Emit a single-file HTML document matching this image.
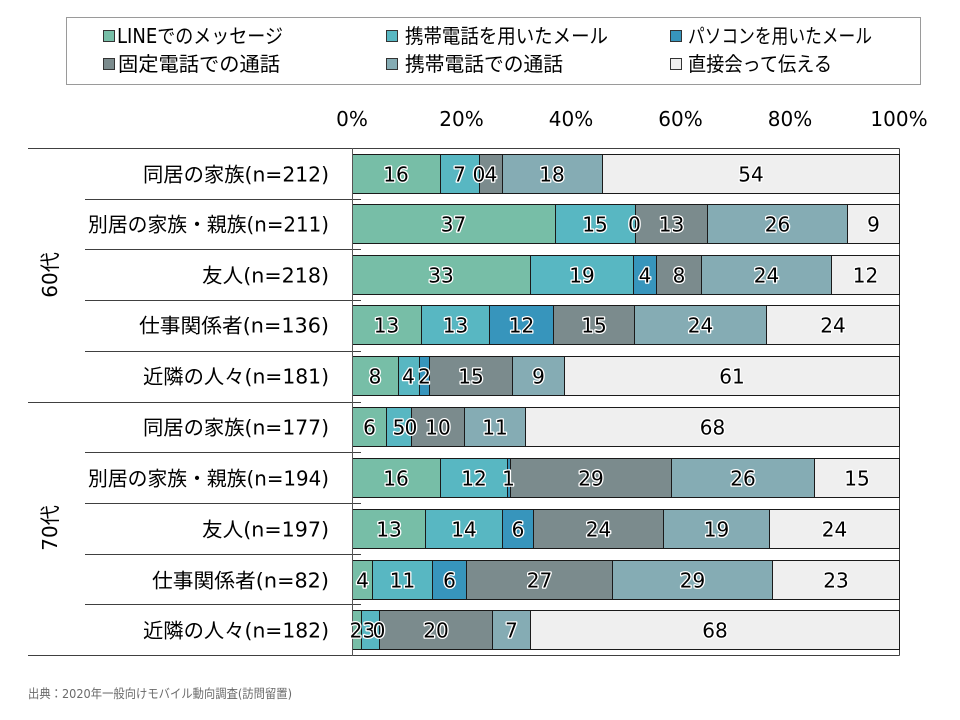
<!DOCTYPE html>
<html><head><meta charset="utf-8"><style>
html,body{margin:0;padding:0;background:#fff;}
svg{display:block;}
text{font-family:"DejaVu Sans","Noto Sans CJK JP",sans-serif;}
.v{font-size:20px;fill:#000;stroke:#fff;stroke-width:2.6px;paint-order:stroke;stroke-linejoin:round;text-anchor:middle;}
.lab{font-size:20px;fill:#000;text-anchor:end;}
.ax{font-size:20px;fill:#000;text-anchor:middle;}
.lg{font-size:20px;fill:#000;}
</style></head><body>
<svg width="960" height="720" viewBox="0 0 960 720" xmlns="http://www.w3.org/2000/svg">
<rect x="0" y="0" width="960" height="720" fill="#fff"/>
<!-- legend -->
<rect x="66.5" y="17.5" width="854" height="67" fill="#fff" stroke="#9a9a9a" stroke-width="1"/>
<rect x="103.5" y="30.5" width="11" height="11" fill="#77BEA7" stroke="#333"/>
<text class="lg" x="117" y="43" textLength="166" lengthAdjust="spacingAndGlyphs">LINEでのメッセージ</text>
<rect x="386.5" y="30.5" width="11" height="11" fill="#58B7C2" stroke="#333"/>
<text class="lg" x="405" y="43" textLength="203" lengthAdjust="spacingAndGlyphs">携帯電話を用いたメール</text>
<rect x="670.5" y="30.5" width="11" height="11" fill="#3795BC" stroke="#333"/>
<text class="lg" x="688" y="43" textLength="184" lengthAdjust="spacingAndGlyphs">パソコンを用いたメール</text>
<rect x="103.5" y="58.5" width="11" height="11" fill="#7B8B8D" stroke="#333"/>
<text class="lg" x="118" y="71" textLength="162" lengthAdjust="spacingAndGlyphs">固定電話での通話</text>
<rect x="386.5" y="58.5" width="11" height="11" fill="#85ACB4" stroke="#333"/>
<text class="lg" x="405" y="71" textLength="158" lengthAdjust="spacingAndGlyphs">携帯電話での通話</text>
<rect x="670.5" y="58.5" width="11" height="11" fill="#efefef" stroke="#333"/>
<text class="lg" x="688" y="71" textLength="144" lengthAdjust="spacingAndGlyphs">直接会って伝える</text>

<!-- axis labels -->
<text class="ax" x="352" y="126">0%</text>
<text class="ax" x="461.5" y="126">20%</text>
<text class="ax" x="571" y="126">40%</text>
<text class="ax" x="680.5" y="126">60%</text>
<text class="ax" x="790" y="126">80%</text>
<text class="ax" x="899" y="126">100%</text>

<!-- frame lines -->
<g stroke="#404040" stroke-width="1" fill="none">
<line x1="28" y1="148.5" x2="899.5" y2="148.5"/>
<line x1="28" y1="655.5" x2="899.5" y2="655.5"/>
<line x1="899.5" y1="148.5" x2="899.5" y2="655.5"/>
<line x1="28" y1="402.5" x2="361" y2="402.5"/>
<line x1="85" y1="199.5" x2="361" y2="199.5"/>
<line x1="85" y1="249.5" x2="361" y2="249.5"/>
<line x1="85" y1="300.5" x2="361" y2="300.5"/>
<line x1="85" y1="351.5" x2="361" y2="351.5"/>
<line x1="85" y1="452.5" x2="361" y2="452.5"/>
<line x1="85" y1="503.5" x2="361" y2="503.5"/>
<line x1="85" y1="554.5" x2="361" y2="554.5"/>
<line x1="85" y1="604.5" x2="361" y2="604.5"/>
</g>

<g id="bars" stroke="#1a1a1a" stroke-width="1">
<!-- row0 y154 -->
<rect x="352.5" y="154.5" width="88" height="39" fill="#77BEA7"/>
<rect x="440.5" y="154.5" width="39" height="39" fill="#58B7C2"/>
<rect x="479.5" y="154.5" width="23" height="39" fill="#7B8B8D"/>
<rect x="502.5" y="154.5" width="100" height="39" fill="#85ACB4"/>
<rect x="602.5" y="154.5" width="297" height="39" fill="#efefef"/>
<!-- row1 y204 -->
<rect x="352.5" y="204.5" width="203" height="39" fill="#77BEA7"/>
<rect x="555.5" y="204.5" width="80" height="39" fill="#58B7C2"/>
<rect x="635.5" y="204.5" width="72" height="39" fill="#7B8B8D"/>
<rect x="707.5" y="204.5" width="140" height="39" fill="#85ACB4"/>
<rect x="847.5" y="204.5" width="52" height="39" fill="#efefef"/>
<!-- row2 y255 -->
<rect x="352.5" y="255.5" width="178" height="39" fill="#77BEA7"/>
<rect x="530.5" y="255.5" width="103" height="39" fill="#58B7C2"/>
<rect x="633.5" y="255.5" width="23" height="39" fill="#3795BC"/>
<rect x="656.5" y="255.5" width="45" height="39" fill="#7B8B8D"/>
<rect x="701.5" y="255.5" width="130" height="39" fill="#85ACB4"/>
<rect x="831.5" y="255.5" width="68" height="39" fill="#efefef"/>
<!-- row3 y306 -->
<rect x="352.5" y="305.5" width="69" height="39" fill="#77BEA7"/>
<rect x="421.5" y="305.5" width="68" height="39" fill="#58B7C2"/>
<rect x="489.5" y="305.5" width="64" height="39" fill="#3795BC"/>
<rect x="553.5" y="305.5" width="81" height="39" fill="#7B8B8D"/>
<rect x="634.5" y="305.5" width="132" height="39" fill="#85ACB4"/>
<rect x="766.5" y="305.5" width="133" height="39" fill="#efefef"/>
<!-- row4 y356 -->
<rect x="352.5" y="356.5" width="46" height="39" fill="#77BEA7"/>
<rect x="398.5" y="356.5" width="21" height="39" fill="#58B7C2"/>
<rect x="419.5" y="356.5" width="10" height="39" fill="#3795BC"/>
<rect x="429.5" y="356.5" width="83" height="39" fill="#7B8B8D"/>
<rect x="512.5" y="356.5" width="52" height="39" fill="#85ACB4"/>
<rect x="564.5" y="356.5" width="335" height="39" fill="#efefef"/>
<!-- row5 y407 -->
<rect x="352.5" y="407.5" width="34" height="39" fill="#77BEA7"/>
<rect x="386.5" y="407.5" width="25" height="39" fill="#58B7C2"/>
<rect x="411.5" y="407.5" width="53" height="39" fill="#7B8B8D"/>
<rect x="464.5" y="407.5" width="61" height="39" fill="#85ACB4"/>
<rect x="525.5" y="407.5" width="374" height="39" fill="#efefef"/>
<!-- row6 y458 -->
<rect x="352.5" y="458.5" width="88" height="39" fill="#77BEA7"/>
<rect x="440.5" y="458.5" width="67" height="39" fill="#58B7C2"/>
<rect x="507.5" y="458.5" width="3" height="39" fill="#3795BC"/>
<rect x="510.5" y="458.5" width="161" height="39" fill="#7B8B8D"/>
<rect x="671.5" y="458.5" width="143" height="39" fill="#85ACB4"/>
<rect x="814.5" y="458.5" width="85" height="39" fill="#efefef"/>
<!-- row7 y509 -->
<rect x="352.5" y="509.5" width="73" height="39" fill="#77BEA7"/>
<rect x="425.5" y="509.5" width="77" height="39" fill="#58B7C2"/>
<rect x="502.5" y="509.5" width="31" height="39" fill="#3795BC"/>
<rect x="533.5" y="509.5" width="130" height="39" fill="#7B8B8D"/>
<rect x="663.5" y="509.5" width="106" height="39" fill="#85ACB4"/>
<rect x="769.5" y="509.5" width="130" height="39" fill="#efefef"/>
<!-- row8 y560 -->
<rect x="352.5" y="560.5" width="20" height="39" fill="#77BEA7"/>
<rect x="372.5" y="560.5" width="60" height="39" fill="#58B7C2"/>
<rect x="432.5" y="560.5" width="34" height="39" fill="#3795BC"/>
<rect x="466.5" y="560.5" width="146" height="39" fill="#7B8B8D"/>
<rect x="612.5" y="560.5" width="160" height="39" fill="#85ACB4"/>
<rect x="772.5" y="560.5" width="127" height="39" fill="#efefef"/>
<!-- row9 y610 -->
<rect x="352.5" y="610.5" width="9" height="39" fill="#77BEA7"/>
<rect x="361.5" y="610.5" width="18" height="39" fill="#58B7C2"/>
<rect x="379.5" y="610.5" width="113" height="39" fill="#7B8B8D"/>
<rect x="492.5" y="610.5" width="38" height="39" fill="#85ACB4"/>
<rect x="530.5" y="610.5" width="369" height="39" fill="#efefef"/>
</g>

<!-- left axis -->
<line x1="352.5" y1="148" x2="352.5" y2="656" stroke="#555" stroke-width="1"/>

<!-- value labels -->
<g>
<text class="v" x="396" y="181.5">16</text>
<text class="v" x="459.5" y="181.5">7</text>
<text class="v" x="479" y="181.5">0</text>
<text class="v" x="491" y="181.5">4</text>
<text class="v" x="552" y="181.5">18</text>
<text class="v" x="751" y="181.5">54</text>

<text class="v" x="453.5" y="231.5">37</text>
<text class="v" x="595" y="231.5">15</text>
<text class="v" x="634.5" y="231.5">0</text>
<text class="v" x="671.5" y="231.5">13</text>
<text class="v" x="777.5" y="231.5">26</text>
<text class="v" x="873.5" y="231.5">9</text>

<text class="v" x="441" y="282.5">33</text>
<text class="v" x="582" y="282.5">19</text>
<text class="v" x="645" y="282.5">4</text>
<text class="v" x="679" y="282.5">8</text>
<text class="v" x="766.5" y="282.5">24</text>
<text class="v" x="865.5" y="282.5">12</text>

<text class="v" x="386.5" y="332.5">13</text>
<text class="v" x="455.5" y="332.5">13</text>
<text class="v" x="521.5" y="332.5">12</text>
<text class="v" x="594" y="332.5">15</text>
<text class="v" x="700.5" y="332.5">24</text>
<text class="v" x="833" y="332.5">24</text>

<text class="v" x="375" y="383.5">8</text>
<text class="v" x="408.5" y="383.5">4</text>
<text class="v" x="424.5" y="383.5">2</text>
<text class="v" x="471" y="383.5">15</text>
<text class="v" x="538.5" y="383.5">9</text>
<text class="v" x="732" y="383.5">61</text>

<text class="v" x="369.5" y="434.5">6</text>
<text class="v" x="399" y="434.5">5</text>
<text class="v" x="411" y="434.5">0</text>
<text class="v" x="438" y="434.5">10</text>
<text class="v" x="495" y="434.5">11</text>
<text class="v" x="712.5" y="434.5">68</text>

<text class="v" x="396" y="485.5">16</text>
<text class="v" x="474" y="485.5">12</text>
<text class="v" x="508.5" y="485.5">1</text>
<text class="v" x="591" y="485.5">29</text>
<text class="v" x="743" y="485.5">26</text>
<text class="v" x="857" y="485.5">15</text>

<text class="v" x="389" y="536.5">13</text>
<text class="v" x="464" y="536.5">14</text>
<text class="v" x="518" y="536.5">6</text>
<text class="v" x="598.5" y="536.5">24</text>
<text class="v" x="716.5" y="536.5">19</text>
<text class="v" x="834.5" y="536.5">24</text>

<text class="v" x="362.5" y="587.5">4</text>
<text class="v" x="402.5" y="587.5">11</text>
<text class="v" x="449.5" y="587.5">6</text>
<text class="v" x="539.5" y="587.5">27</text>
<text class="v" x="692.5" y="587.5">29</text>
<text class="v" x="836" y="587.5">23</text>

<text class="v" x="356" y="637.5">2</text>
<text class="v" x="369" y="637.5">3</text>
<text class="v" x="379" y="637.5">0</text>
<text class="v" x="436" y="637.5">20</text>
<text class="v" x="511.5" y="637.5">7</text>
<text class="v" x="715" y="637.5">68</text>
</g>

<!-- category labels -->
<g>
<text class="lab" x="329" y="181.5" textLength="186" lengthAdjust="spacingAndGlyphs">同居の家族(n=212)</text>
<text class="lab" x="329" y="231.5" textLength="241" lengthAdjust="spacingAndGlyphs">別居の家族・親族(n=211)</text>
<text class="lab" x="329" y="282.5" textLength="127" lengthAdjust="spacingAndGlyphs">友人(n=218)</text>
<text class="lab" x="329" y="332.5" textLength="190" lengthAdjust="spacingAndGlyphs">仕事関係者(n=136)</text>
<text class="lab" x="329" y="383.5" textLength="186" lengthAdjust="spacingAndGlyphs">近隣の人々(n=181)</text>
<text class="lab" x="329" y="434.5" textLength="186" lengthAdjust="spacingAndGlyphs">同居の家族(n=177)</text>
<text class="lab" x="329" y="485.5" textLength="241" lengthAdjust="spacingAndGlyphs">別居の家族・親族(n=194)</text>
<text class="lab" x="329" y="536.5" textLength="127" lengthAdjust="spacingAndGlyphs">友人(n=197)</text>
<text class="lab" x="329" y="587.5" textLength="177" lengthAdjust="spacingAndGlyphs">仕事関係者(n=82)</text>
<text class="lab" x="329" y="637.5" textLength="186" lengthAdjust="spacingAndGlyphs">近隣の人々(n=182)</text>
</g>

<text x="0" y="0" font-size="20" text-anchor="middle" transform="translate(57,275) rotate(-90)" fill="#000">60代</text>
<text x="0" y="0" font-size="20" text-anchor="middle" transform="translate(57,528) rotate(-90)" fill="#000">70代</text>

<text x="28" y="698" font-size="12.5" fill="#6a6a6a" textLength="264" lengthAdjust="spacingAndGlyphs">出典：2020年一般向けモバイル動向調査(訪問留置)</text>
</svg>
</body></html>
